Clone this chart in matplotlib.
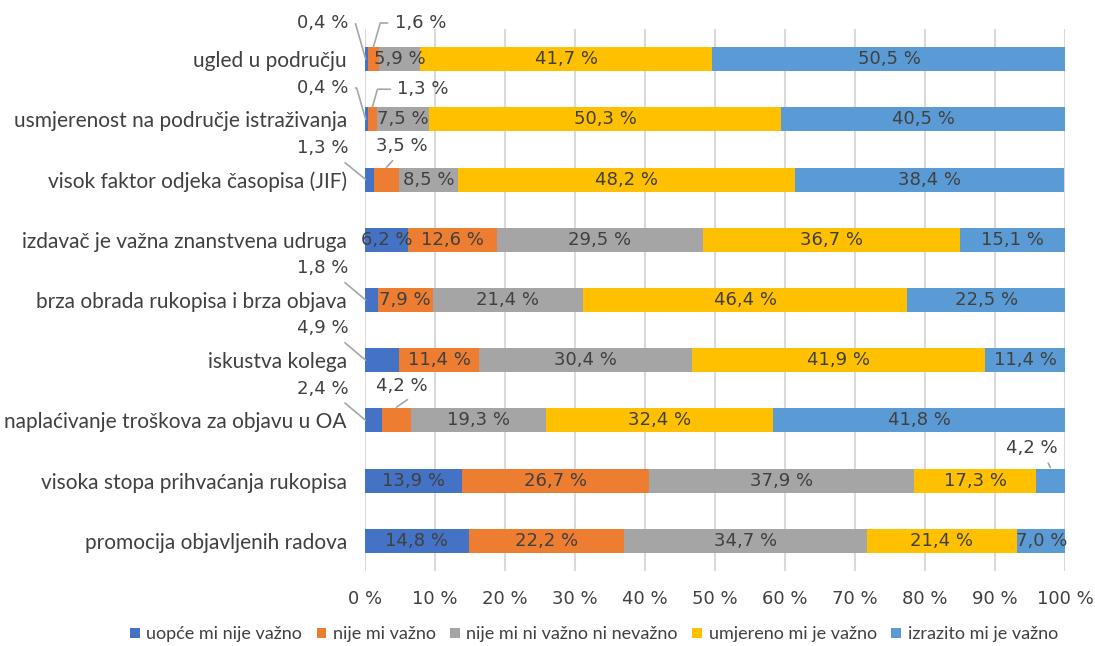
import matplotlib
matplotlib.use("Agg")
import matplotlib.pyplot as plt
import numpy as np

categories = [
    "ugled u području",
    "usmjerenost na područje istraživanja",
    "visok faktor odjeka časopisa (JIF)",
    "izdavač je važna znanstvena udruga",
    "brza obrada rukopisa i brza objava",
    "iskustva kolega",
    "naplaćivanje troškova za objavu u OA",
    "visoka stopa prihvaćanja rukopisa",
    "promocija objavljenih radova",
]
series_names = [
    "uopće mi nije važno",
    "nije mi važno",
    "nije mi ni važno ni nevažno",
    "umjereno mi je važno",
    "izrazito mi je važno",
]
uopce = [0.4, 0.4, 1.3, 6.2, 1.8, 4.9, 2.4, 13.9, 14.8]
nije = [1.6, 1.3, 3.5, 12.6, 7.9, 11.4, 4.2, 26.7, 22.2]
neutral = [5.9, 7.5, 8.5, 29.5, 21.4, 30.4, 19.3, 37.9, 34.7]
umjereno = [41.7, 50.3, 48.2, 36.7, 46.4, 41.9, 32.4, 17.3, 21.4]
izrazito = [50.5, 40.5, 38.4, 15.1, 22.5, 11.4, 41.8, 4.2, 7.0]
colors = ["#4472C4", "#ED7D31", "#A5A5A5", "#FFC000", "#5B9BD5"]

# labels drawn outside the bar: (row, series, text x, text y, leader kind)
outside = [
    (0, 0, -6.0, -0.60, "left_elbow"),
    (0, 1, 7.9, -0.60, "right_elbow"),
    (1, 0, -6.0, 0.48, "left_elbow"),
    (1, 1, 8.3, 0.50, "right_elbow"),
    (2, 0, -6.0, 1.48, "left"),
    (2, 1, 5.3, 1.44, "up"),
    (4, 0, -6.0, 3.47, "left"),
    (5, 0, -6.0, 4.47, "left"),
    (6, 0, -6.0, 5.47, "left"),
    (6, 1, 5.3, 5.42, "up_right"),
    (7, 4, 95.3, 6.45, "up_right"),
]

TEXT = "#404040"
LEADER = "#A6A6A6"
NUM_FONT = ["DejaVu Sans"]
plt.rcParams["font.family"] = ["Lato", "DejaVu Sans"]


def pct(v):
    return f"{v:.1f} %".replace(".", ",")


fig = plt.figure(figsize=(10.95, 6.46), dpi=100)
ax = fig.add_axes([0.3333, 0.1161, 0.6393, 0.839])

data = np.array([uopce, nije, neutral, umjereno, izrazito])
y = np.arange(len(categories))
left = np.zeros(len(categories))
outside_keys = {(r, s) for r, s, *_ in outside}
for s, (vals, name, col) in enumerate(zip(data, series_names, colors)):
    ax.barh(y, vals, left=left, height=0.4, color=col, label=name, zorder=3)
    for r, v in enumerate(vals):
        if (r, s) in outside_keys:
            continue
        ax.text(left[r] + v / 2, r, pct(v), ha="center", va="center",
                fontsize=13, family=NUM_FONT, color=TEXT, zorder=4)
    left += vals

for r, s, tx, ty, kind in outside:
    v = data[s, r]
    start = data[:s, r].sum()
    if kind == "left_elbow":
        xy, rel, conn = (0.1, r), (1.0, 0.5), "angle,angleA=0,angleB=106,rad=0"
    elif kind == "right_elbow":
        xy, rel, conn = (start + v / 2, r - 0.2), (0.0, 0.5), "angle,angleA=0,angleB=74,rad=0"
    elif kind == "left":
        xy, rel, conn = (0.1, r), (0.8, 0.0), "arc3"
    elif kind == "up":
        xy, rel, conn = (start + v / 2, r - 0.2), (0.42, 0.0), "arc3"
    else:
        xy, rel, conn = (start + v / 2, r - 0.22), (0.75, 0.0), "arc3"
    ax.annotate(pct(v), xy=xy, xytext=(tx, ty), textcoords="data",
                ha="center", va="center", fontsize=13, family=NUM_FONT,
                color=TEXT, annotation_clip=False, zorder=5,
                arrowprops=dict(arrowstyle="-", color=LEADER, lw=1.2,
                                shrinkA=3, shrinkB=0, relpos=rel,
                                connectionstyle=conn))

ax.set_xlim(0, 100)
ax.set_ylim(len(categories) - 0.5, -0.5)
ax.set_yticks(y)
ax.set_yticklabels(categories, fontsize=15, color=TEXT)
ax.set_xticks(np.arange(0, 101, 10))
ax.set_xticklabels([f"{t} %" for t in range(0, 101, 10)], fontsize=13,
                   family=NUM_FONT, color=TEXT)
ax.tick_params(axis="y", length=0, pad=13)
ax.tick_params(axis="x", length=0, pad=14)
ax.grid(axis="x", color="#D9D9D9", lw=1.5, zorder=0)
for sp in ax.spines.values():
    sp.set_visible(False)

ax.legend(loc="center", bbox_to_anchor=(0.327, -0.117), ncol=5, frameon=False,
          fontsize=13, handlelength=0.55, handleheight=0.55, handletextpad=0.35,
          columnspacing=0.8, labelcolor=TEXT)

fig.savefig("out.png", dpi=100)
